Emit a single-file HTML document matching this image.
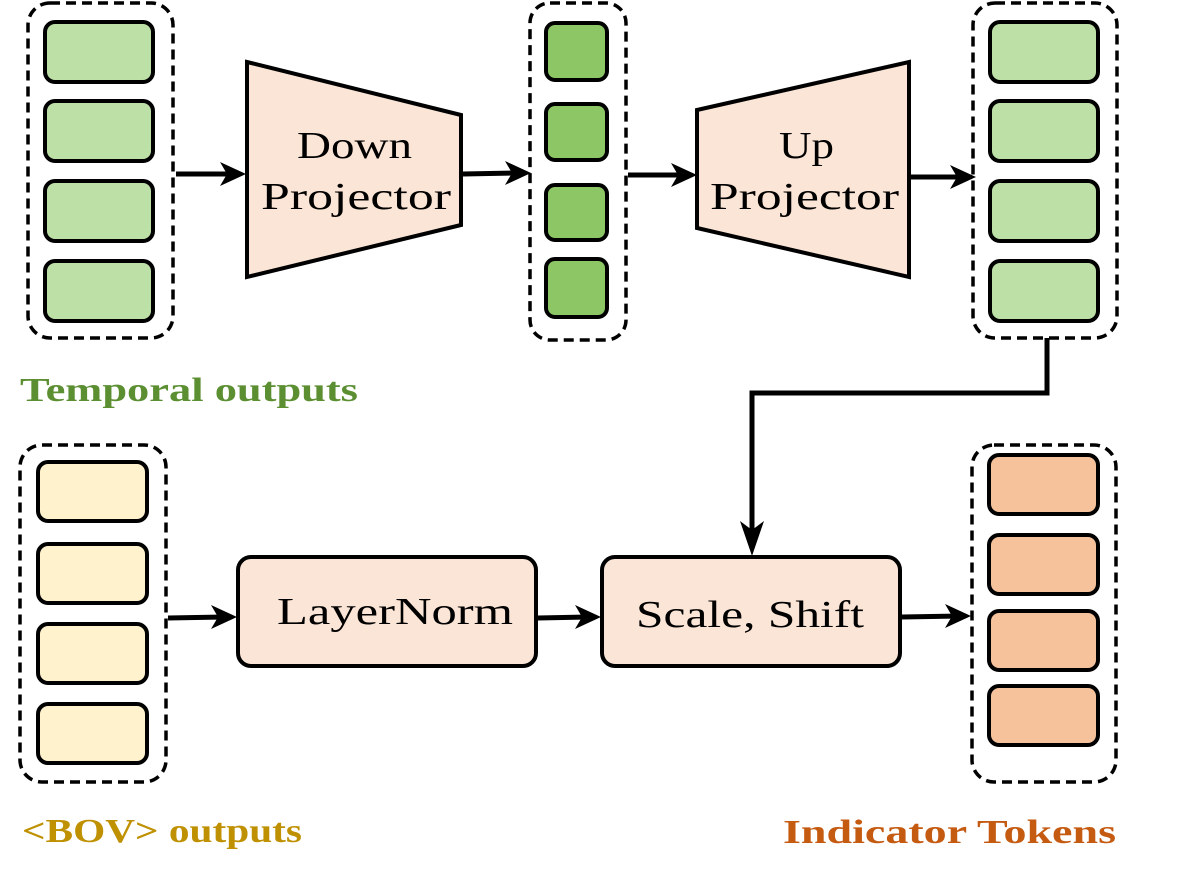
<!DOCTYPE html>
<html><head><meta charset="utf-8"><style>html,body{margin:0;padding:0;background:#fff}svg{display:block}</style></head>
<body>
<svg width="1184" height="881" viewBox="0 0 1184 881" xmlns="http://www.w3.org/2000/svg">
<g fill="none" stroke="#000" stroke-width="3.5" stroke-dasharray="10,6">
<rect x="28" y="3" width="145" height="335" rx="22"/>
<rect x="530" y="3" width="96" height="337" rx="20"/>
<rect x="973" y="3" width="144" height="335" rx="22"/>
<rect x="20" y="445" width="146" height="337" rx="22"/>
<rect x="972" y="445" width="144" height="337" rx="22"/>
</g>
<g stroke="#000" stroke-width="4">
<g fill="#bde0a6">
<rect x="45" y="22" width="108" height="60" rx="10"/>
<rect x="45" y="101" width="108" height="60" rx="10"/>
<rect x="45" y="181" width="108" height="60" rx="10"/>
<rect x="45" y="261" width="108" height="60" rx="10"/>
<rect x="990" y="22" width="108" height="60" rx="10"/>
<rect x="990" y="101" width="108" height="60" rx="10"/>
<rect x="990" y="181" width="108" height="60" rx="10"/>
<rect x="990" y="261" width="108" height="60" rx="10"/>
</g>
<g fill="#8cc665">
<rect x="546" y="23" width="61" height="57" rx="9"/>
<rect x="546" y="104" width="61" height="56" rx="9"/>
<rect x="546" y="185" width="61" height="55" rx="9"/>
<rect x="546" y="259" width="61" height="58" rx="9"/>
</g>
<g fill="#fff2cc">
<rect x="38" y="462" width="109" height="59" rx="10"/>
<rect x="38" y="544" width="109" height="59" rx="10"/>
<rect x="38" y="624" width="109" height="59" rx="10"/>
<rect x="38" y="704" width="109" height="59" rx="10"/>
</g>
<g fill="#f5c29b">
<rect x="989" y="455" width="109" height="59" rx="10"/>
<rect x="989" y="535" width="109" height="59" rx="10"/>
<rect x="989" y="611" width="109" height="59" rx="10"/>
<rect x="989" y="686" width="109" height="59" rx="10"/>
</g>
<g fill="#fbe5d6">
<polygon points="247,62 461,115 461,225 247,277"/>
<polygon points="697,110 909,62 909,277 697,228"/>
<rect x="238" y="557" width="298" height="109" rx="13"/>
<rect x="602" y="557" width="298" height="109" rx="13"/>
</g>
</g>
<g stroke="#000" stroke-width="5" fill="none">
<line x1="176" y1="174" x2="232" y2="174"/>
<line x1="463" y1="174" x2="518" y2="173"/>
<line x1="628" y1="175" x2="683" y2="175"/>
<line x1="911" y1="177" x2="962" y2="177"/>
<polyline points="1047,338 1047,393 752,393 752,540"/>
<line x1="168" y1="618" x2="224" y2="617"/>
<line x1="538" y1="618" x2="588" y2="617"/>
<line x1="902" y1="617" x2="960" y2="616"/>
</g>
<g fill="#000">
<polygon points="246,174 220,162 227,174 220,186"/>
<polygon points="531,173 505,161 512,173 505,185"/>
<polygon points="697,175 671,163 678,175 671,187"/>
<polygon points="976,177 950,165 957,177 950,189"/>
<polygon points="752,556 740,521 752,530 764,521"/>
<polygon points="237,617 211,605 218,617 211,629"/>
<polygon points="601,617 575,605 582,617 575,629"/>
<polygon points="971,616 945,604 952,616 945,628"/>
</g>
<g font-family="'Liberation Serif', serif" font-size="38" fill="#000" lengthAdjust="spacingAndGlyphs">
<text x="297" y="158" textLength="115" lengthAdjust="spacingAndGlyphs">Down</text>
<text x="261" y="209" textLength="190" lengthAdjust="spacingAndGlyphs">Projector</text>
<text x="779" y="158" textLength="55" lengthAdjust="spacingAndGlyphs">Up</text>
<text x="710" y="209" textLength="189" lengthAdjust="spacingAndGlyphs">Projector</text>
<text x="277" y="624" textLength="236" lengthAdjust="spacingAndGlyphs">LayerNorm</text>
<text x="636" y="627" textLength="228" lengthAdjust="spacingAndGlyphs">Scale, Shift</text>
</g>
<g font-family="'Liberation Serif', serif" font-weight="bold" font-size="34">
<text x="20" y="401" fill="#5b8f32" textLength="338" lengthAdjust="spacingAndGlyphs">Temporal outputs</text>
<text x="22" y="842" fill="#bf9000" textLength="280" lengthAdjust="spacingAndGlyphs">&lt;BOV&gt; outputs</text>
<text x="783" y="843" fill="#c55a11" textLength="333" lengthAdjust="spacingAndGlyphs">Indicator Tokens</text>
</g>
</svg>
</body></html>
